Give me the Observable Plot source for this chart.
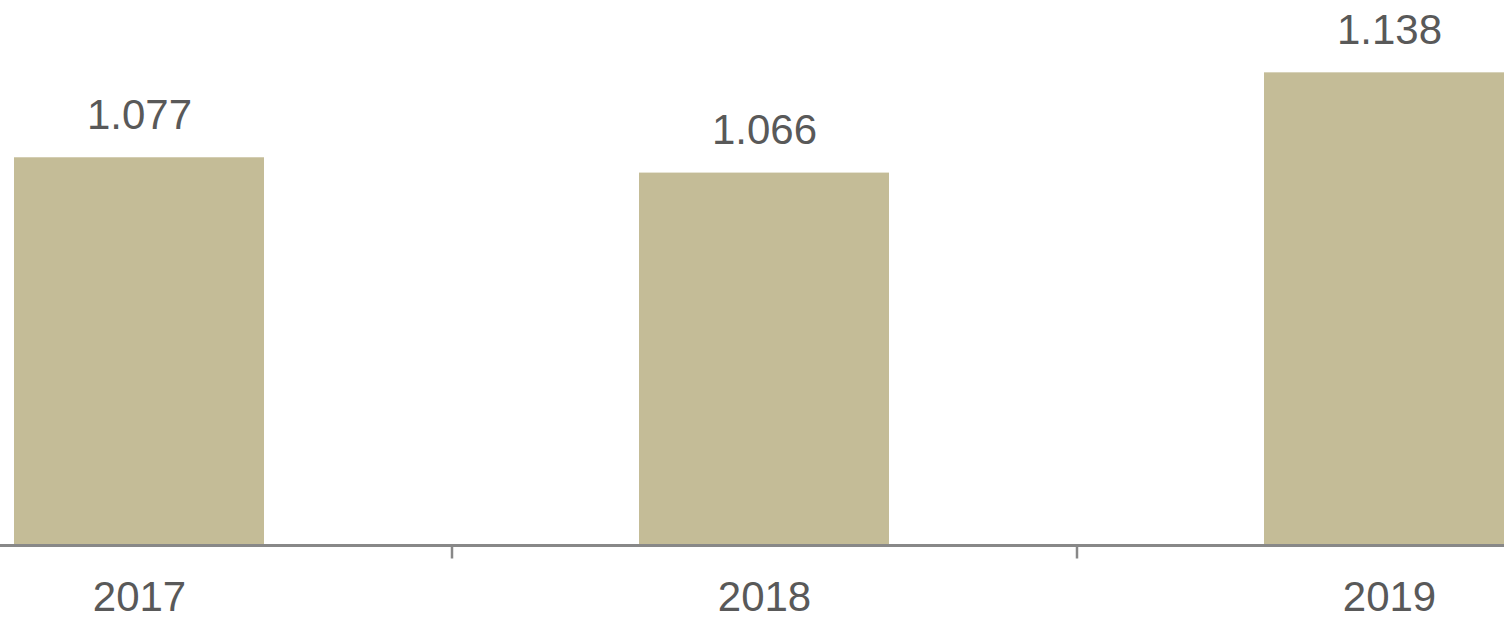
<!DOCTYPE html>
<html>
<head>
<meta charset="utf-8">
<script src="https://cdn.jsdelivr.net/npm/d3@7"></script>
<script src="https://cdn.jsdelivr.net/npm/@observablehq/plot@0.6"></script>
<style>
  html, body { margin: 0; padding: 0; background: #fff; }
  #chart svg { display: block; }
</style>
</head>
<body>
<div id="chart"></div>
<script>
const years = ["2017", "2018", "2019"];
const values = [1.077, 1.066, 1.138];
const valueLabels = ["1.077", "1.066", "1.138"];
const boundaryTicks = ["2017", "2018"];

const data = years.map((y, i) => ({year: y, value: values[i], label: valueLabels[i]}));

const font = "Liberation Sans, Arial, Helvetica, sans-serif";
const barColor = "#c4bc97";
const textColor = "#595959";
const axisColor = "#888888";

const chart = Plot.plot({
  width: 1504,
  height: 620,
  marginTop: 0, marginRight: 0, marginBottom: 0, marginLeft: 0,
  style: {fontFamily: font, background: "#fff", overflow: "hidden"},
  x: {domain: years, range: [-174, 1701], paddingInner: 0.6, paddingOuter: 0.3, axis: null},
  y: {domain: [0.8, 1.2], range: [543, -14], axis: null},
  marks: [
    Plot.barY(data, {x: "year", y1: 0.8, y2: "value", fill: barColor, insetBottom: -3}),
    Plot.ruleY([0.8], {stroke: axisColor, strokeWidth: 3, dy: 2}),
    Plot.axisX(boundaryTicks, {label: null, tickSize: 12, tickFormat: () => "", stroke: axisColor, strokeWidth: 2.5, dx: 312.5, dy: 3.5, anchor: "bottom", frameAnchor: "bottom", y: 0.8}),
    Plot.text(data, {x: "year", y: "value", text: "label", fill: textColor, fontSize: 42, dy: -29, lineAnchor: "bottom"}),
    Plot.text(data, {x: "year", y: 0.8, text: "year", fill: textColor, fontSize: 42, dy: 38, lineAnchor: "top"})
  ]
});
document.getElementById("chart").appendChild(chart);
</script>
</body>
</html>
